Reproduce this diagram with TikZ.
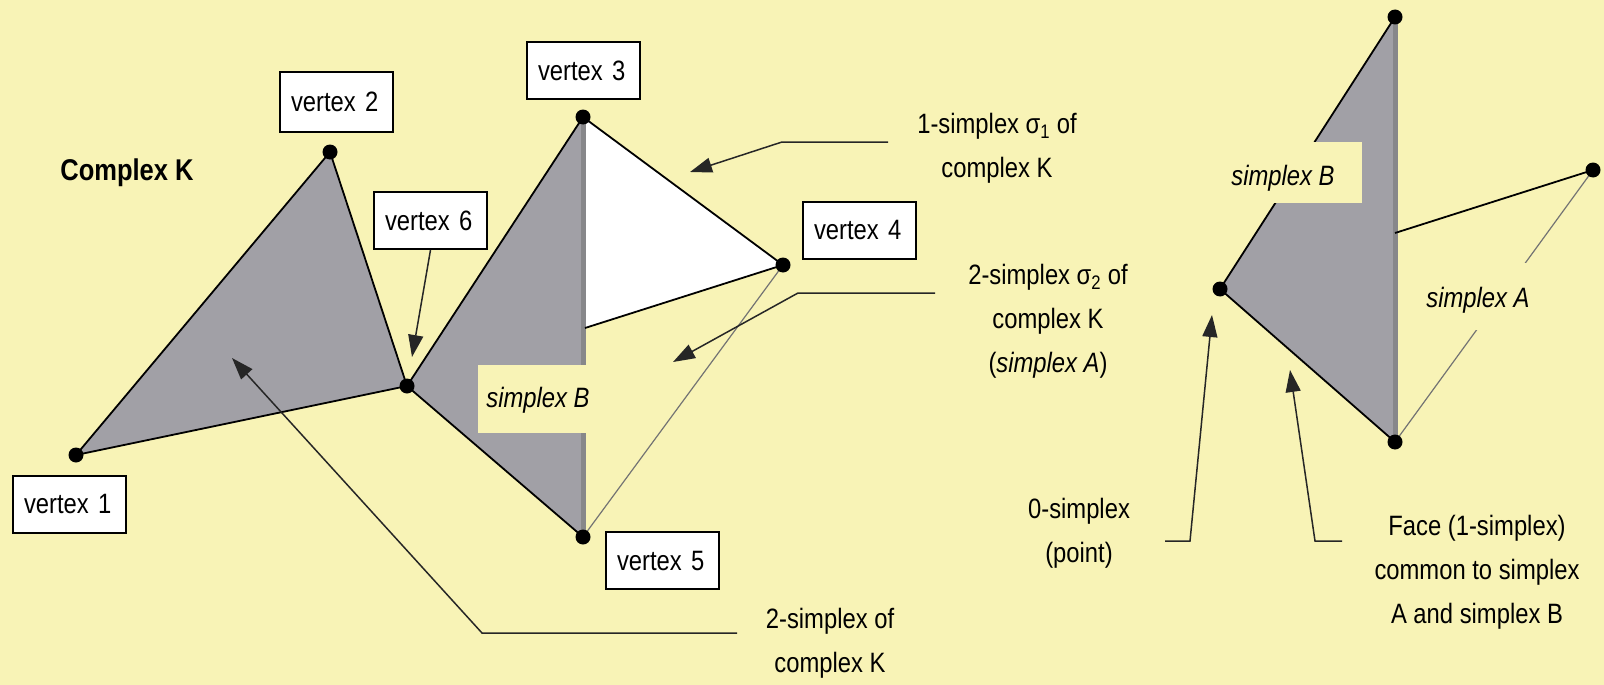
\documentclass[tikz,border=0pt]{standalone}
\usepackage{fontspec}
\setmainfont{Liberation Sans}[FakeStretch=0.85]
\usetikzlibrary{arrows.meta}
\definecolor{bg}{RGB}{248,243,182}
\definecolor{gfill}{RGB}{161,160,166}
\definecolor{gline}{RGB}{135,135,138}
\tikzset{
  dot/.style={circle,fill=black,inner sep=0pt,minimum size=15pt},
  vbox/.style={draw=black,line width=2pt,fill=white,anchor=north west,minimum height=57pt,text width=91pt,inner xsep=11pt,align=left,font=\fontsize{28}{34}\selectfont},
  sedge/.style={draw=black,line width=1.8pt,line join=round},
  faint/.style={draw=black!55,line width=1.2pt},
  vline/.style={draw=gline,line width=5pt},
  lead/.style={draw=black!85,line width=1.5pt},
  leadarrow/.style={lead,-{Triangle[length=22pt,width=15pt]}},
  ann/.style={align=center,font=\fontsize{28}{44}\selectfont},
  slabel/.style={inner sep=0pt,font=\fontsize{28}{34}\selectfont\itshape},
}
\begin{document}
\begin{tikzpicture}[x=1pt,y=-1pt]
\fill[bg] (0,0) rectangle (1604,685);
\useasboundingbox (0,0) rectangle (1604,685);

% ---------- left complex ----------
\coordinate (v1) at (76,455);
\coordinate (v2) at (330,152);
\coordinate (v6) at (407,386);
\coordinate (v3) at (583,117);
\coordinate (v4) at (783,265);
\coordinate (v5) at (583,537);
\coordinate (p) at (585,328);

\fill[gfill] (v1) -- (v2) -- (v6) -- cycle;
\fill[gfill] (v3) -- (v6) -- (v5) -- cycle;
\fill[white] (v3) -- (v4) -- (p) -- cycle;
\draw[vline] (v3) -- (v5);
\draw[sedge] (v1) -- (v2) -- (v6) -- cycle;
\draw[sedge] (v3) -- (v6) -- (v5);
\draw[sedge] (v3) -- (v4) -- (p);
\draw[faint] (v4) -- (v5);

\fill[bg] (478,365) rectangle (592,433);
\node[slabel] (sbl) at (538,400) {simplex B};

\foreach \v in {v1,v2,v3,v4,v5,v6} \node[dot] (d\v) at (\v) {};

\node[font=\fontsize{30}{36}\selectfont\bfseries] (ck) at (127,173) {Complex K};

\node[vbox] (l1) at (12,475) {vertex 1};
\node[vbox,minimum height=60pt] (l2) at (279,71) {vertex 2};
\node[vbox] (l3) at (526,41) {vertex 3};
\node[vbox] (l4) at (802,201) {vertex 4};
\node[vbox] (l5) at (605,531) {vertex 5};
\node[vbox] (l6) at (373,191) {vertex 6};

\coordinate (t6) at (412,357);
\draw[leadarrow] (l6.south) -- (t6);

% annotations
\node[ann] (a1) at (997,148) {1-simplex σ\textsubscript{1} of\\complex K};
\node[ann] (a2) at (1048,321) {2-simplex σ\textsubscript{2} of\\complex K\\(\textit{simplex A})};
\node[ann] (a3) at (830,643) {2-simplex of\\complex K};

\coordinate (a1s) at (888,142);
\coordinate (a1b) at (782,142);
\coordinate (a1t) at (690,172);
\draw[leadarrow] (a1s) -- (a1b) -- (a1t);

\coordinate (a2s) at (935,293);
\coordinate (a2b) at (798,293);
\coordinate (a2t) at (673,362);
\draw[leadarrow] (a2s) -- (a2b) -- (a2t);

\coordinate (a3s) at (737,633);
\coordinate (a3b) at (482,633);
\coordinate (a3t) at (232,358);
\draw[leadarrow] (a3s) -- (a3b) -- (a3t);

% ---------- right figure ----------
\coordinate (rt) at (1395,17);
\coordinate (rl) at (1220,289);
\coordinate (rb) at (1395,442);
\coordinate (rr) at (1593,170);
\coordinate (rm) at (1395,233);

\fill[gfill] (rt) -- (rl) -- (rb) -- cycle;
\draw[vline] (rt) -- (rb);
\draw[sedge] (rt) -- (rl) -- (rb);
\draw[sedge] (rr) -- (rm);
\draw[faint] (rr) -- (rb);

\fill[bg] (1222,142) rectangle (1362,203);
\node[slabel] (sbr) at (1283,178) {simplex B};
\fill[bg] (1420,263) rectangle (1536,330);
\node[slabel] (sar) at (1478,300) {simplex A};

\foreach \v in {rt,rl,rb,rr} \node[dot] (d\v) at (\v) {};

\node[ann] (a4) at (1079,533) {0-simplex\\(point)};
\node[ann] (a5) at (1477,572) {Face (1-simplex)\\common to simplex\\A and simplex B};

\coordinate (a4s) at (1165,541);
\coordinate (a4b) at (1190,541);
\coordinate (a4t) at (1212,315);
\draw[leadarrow] (a4s) -- (a4b) -- (a4t);

\coordinate (a5s) at (1342,541);
\coordinate (a5b) at (1315,541);
\coordinate (a5t) at (1290,370);
\draw[leadarrow] (a5s) -- (a5b) -- (a5t);
\end{tikzpicture}
\end{document}
